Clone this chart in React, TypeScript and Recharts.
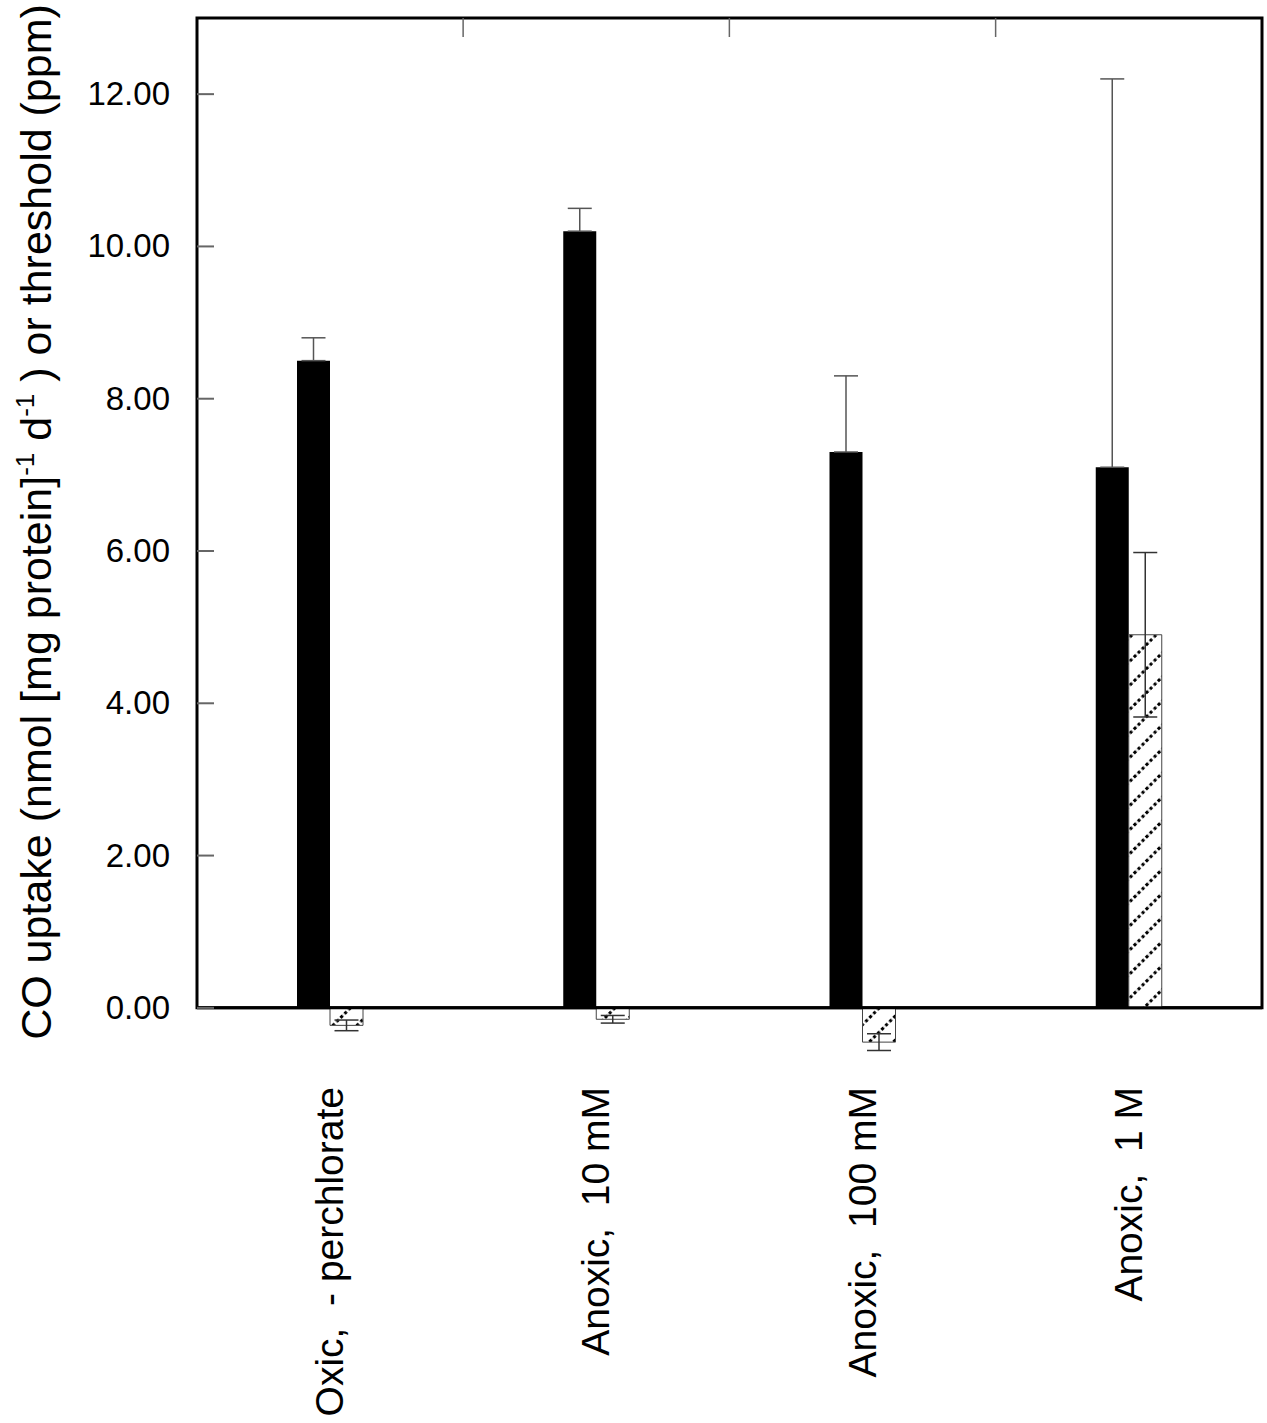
import React from "react"
import { BarChart, Bar, XAxis, YAxis, ErrorBar, ReferenceLine, ReferenceArea } from "recharts"

document.body.style.margin = "0"

const categories = ["Oxic,  - perchlorate", "Anoxic,  10 mM", "Anoxic,  100 mM", "Anoxic,  1 M"]
const uptake = [8.5, 10.2, 7.3, 7.1]
// only the upper whisker shows above the black bars
const uptakeErrUp = [0.3, 0.3, 1.0, 5.1]
const threshold = [-0.23, -0.15, -0.45, 4.9]
const thresholdErr = [0.07, 0.05, 0.11, 1.08]
const yTicks = [0, 2, 4, 6, 8, 10, 12]

const data = categories.map((name, i) => ({
  name,
  uptake: uptake[i],
  uptakeErr: [0, uptakeErrUp[i]],
  threshold: threshold[i],
  thresholdErr: thresholdErr[i],
}))

const FONT = '"Liberation Sans", Arial, sans-serif'
const TICK_STROKE = "#666"
const PLOT_LEFT = 197
const PLOT_RIGHT = 1263
const HALF_BAND = (PLOT_RIGHT - PLOT_LEFT) / categories.length / 2

type TickProps = {
  x?: number
  y?: number
  index?: number
  payload?: { value: any; coordinate?: number; offset?: number }
}

function CategoryTick({ x, y, payload }: TickProps) {
  return (
    <text
      transform={`translate(${(x ?? 0) + 13}, ${y}) rotate(-90)`}
      textAnchor="end"
      fontSize={39}
      fontFamily={FONT}
      fill="#000"
      style={{ whiteSpace: "pre" }}
    >
      {payload?.value}
    </text>
  )
}

// inward tick on the left frame plus its label
function LeftTick({ y, payload }: TickProps) {
  const cy = payload?.coordinate ?? y ?? 0
  return (
    <g>
      <line x1={PLOT_LEFT} x2={PLOT_LEFT + 17} y1={cy} y2={cy} stroke={TICK_STROKE} strokeWidth={2} />
      <text x={170} y={cy} dy={11} textAnchor="end" fontSize={33} fontFamily={FONT} fill="#000">
        {Number(payload?.value).toFixed(2)}
      </text>
    </g>
  )
}

function RightTick({ y, payload }: TickProps) {
  const cy = payload?.coordinate ?? y ?? 0
  return <line x1={PLOT_RIGHT - 17} x2={PLOT_RIGHT} y1={cy} y2={cy} stroke={TICK_STROKE} strokeWidth={2} />
}

// top ticks sit on the boundaries between categories
function TopTick({ x, index, payload }: TickProps) {
  if (!index) return null
  const cx = (payload?.coordinate ?? x ?? 0) - HALF_BAND
  return <line x1={cx} x2={cx} y1={18} y2={37} stroke={TICK_STROKE} strokeWidth={1.5} />
}

function YTitle() {
  return (
    <text
      transform="translate(51, 522) rotate(-90)"
      textAnchor="middle"
      fontSize={43}
      fontFamily={FONT}
      fill="#000"
    >
      CO uptake (nmol [mg protein]
      <tspan dy={-17} fontSize={26}>-1</tspan>
      <tspan dy={17}> d</tspan>
      <tspan dy={-17} fontSize={26}>-1</tspan>
      <tspan dy={17}> ) or threshold (ppm)</tspan>
    </text>
  )
}

export default function App() {
  return (
    <div style={{ width: 1267, height: 1423 }}>
      <BarChart
        width={1267}
        height={1423}
        data={data}
        margin={{ top: 17, right: 4, bottom: 0, left: 0 }}
        barGap={0}
      >
        <defs>
          <pattern id="hatch" patternUnits="userSpaceOnUse" width={17} height={17} patternTransform="rotate(45)">
            <rect x={0} y={0} width={17} height={17} fill="#fff" />
            <line x1={8.5} y1={0} x2={8.5} y2={17} stroke="#000" strokeWidth={3} strokeDasharray="3 2.6" />
          </pattern>
        </defs>
        <XAxis
          dataKey="name"
          height={339}
          axisLine={false}
          tickLine={false}
          tickSize={0}
          tickMargin={3}
          interval={0}
          tick={<CategoryTick />}
        />
        <XAxis
          xAxisId="top"
          dataKey="name"
          orientation="top"
          interval={0}
          height={1}
          axisLine={false}
          tickLine={false}
          tick={<TopTick />}
        />
        <YAxis
          yAxisId="left"
          width={197}
          domain={[-1, 13]}
          ticks={yTicks}
          interval={0}
          axisLine={false}
          tickLine={false}
          tick={<LeftTick />}
          label={<YTitle />}
        />
        <YAxis
          yAxisId="right"
          orientation="right"
          width={1}
          domain={[-1, 13]}
          ticks={yTicks}
          interval={0}
          axisLine={false}
          tickLine={false}
          tick={<RightTick />}
        />
        <ReferenceArea
          yAxisId="left"
          y1={0}
          y2={13}
          fill="none"
          stroke="#000"
          strokeWidth={3}
          ifOverflow="visible"
        />
        <Bar yAxisId="left" dataKey="uptake" fill="#000" barSize={33} isAnimationActive={false}>
          <ErrorBar dataKey="uptakeErr" width={12} stroke="#555" strokeWidth={1.5} direction="y" />
        </Bar>
        <Bar
          yAxisId="left"
          dataKey="threshold"
          fill="url(#hatch)"
          stroke="#444"
          strokeWidth={1}
          barSize={33}
          isAnimationActive={false}
        >
          <ErrorBar dataKey="thresholdErr" width={12} stroke="#333" strokeWidth={1.5} direction="y" />
        </Bar>
        <ReferenceLine yAxisId="left" y={0} stroke="#000" strokeWidth={3} />
      </BarChart>
    </div>
  )
}
